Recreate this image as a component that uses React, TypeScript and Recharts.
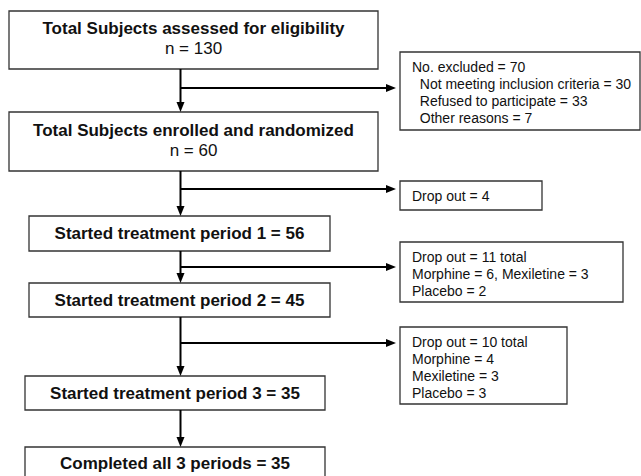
import React from "react";
import { ComposedChart, XAxis, YAxis, ReferenceArea, ReferenceLine, Scatter } from "recharts";

const W = 641;
const H = 476;

const mainLabels = [
  ["Total Subjects assessed for eligibility", "n = 130"],
  ["Total Subjects enrolled and randomized", "n = 60"],
  ["Started treatment period 1 = 56"],
  ["Started treatment period 2 = 45"],
  ["Started treatment period 3 = 35"],
  ["Completed all 3 periods = 35"],
];

const sideLabels = [
  ["No. excluded = 70", "  Not meeting inclusion criteria = 30", "  Refused to participate = 33", "  Other reasons = 7"],
  ["Drop out = 4"],
  ["Drop out = 11 total", "Morphine = 6, Mexiletine = 3", "Placebo = 2"],
  ["Drop out = 10 total", "Morphine = 4", "Mexiletine = 3", "Placebo = 3"],
];

// layout, in the 641x476 frame
const mainX = [[9, 378], [9, 378], [29, 330], [29, 330], [25, 325], [25, 325]];
const mainY = [[11, 69], [112, 171], [216, 251], [283, 317], [376, 410], [447, 480]];
const sideX = [[400, 640], [400, 542], [400, 623], [400, 567]];
const sideY = [[52, 130], [181, 210], [242, 302], [327, 404]];
const branchY = [88, 189, 267, 343];
const spineX = 180.5;

const FONT = "'Liberation Sans', Arial, Helvetica, sans-serif";

type TextPt = { x: number; y: number; text: string; bold: boolean; size: number; anchor: string };
type ArrowPt = { x: number; y: number; dir: "down" | "right" };

const texts: TextPt[] = [];
mainLabels.forEach((lines, i) => {
  const cx = (mainX[i][0] + mainX[i][1]) / 2;
  if (lines.length === 2) {
    const b = mainY[i][1];
    texts.push({ x: cx, y: b - 41, text: lines[0], bold: true, size: 17, anchor: "middle" });
    texts.push({ x: cx, y: b - 21, text: lines[1], bold: false, size: 17, anchor: "middle" });
  } else {
    const cy = (mainY[i][0] + mainY[i][1]) / 2;
    const y = i === 5 ? 463 : cy;
    texts.push({ x: cx, y, text: lines[0], bold: true, size: 17, anchor: "middle" });
  }
});
sideLabels.forEach((lines, k) => {
  lines.forEach((t, j) => {
    texts.push({ x: sideX[k][0] + 12, y: sideY[k][0] + 15 + j * 17, text: t, bold: false, size: 14, anchor: "start" });
  });
});

const arrows: ArrowPt[] = [];
const segments: { x1: number; y1: number; x2: number; y2: number }[] = [];
for (let i = 0; i < mainY.length - 1; i++) {
  arrows.push({ x: spineX, y: mainY[i + 1][0], dir: "down" });
  segments.push({ x1: spineX, y1: mainY[i][1], x2: spineX, y2: mainY[i + 1][0] - 6 });
}
branchY.forEach((y, k) => {
  const tip = sideX[k][0] - 4;
  arrows.push({ x: tip, y, dir: "right" });
  segments.push({ x1: spineX, y1: y, x2: tip - 6, y2: y });
});

const ArrowHead = (props: any) => {
  const { cx, cy, payload } = props;
  const pts =
    payload.dir === "down"
      ? `${cx},${cy} ${cx - 4},${cy - 10} ${cx + 4},${cy - 10}`
      : `${cx},${cy} ${cx - 10},${cy - 4} ${cx - 10},${cy + 4}`;
  return <polygon points={pts} fill="#000" />;
};

const TextMark = (props: any) => {
  const { cx, cy, payload } = props;
  return (
    <text
      x={cx}
      y={cy}
      textAnchor={payload.anchor}
      dominantBaseline="central"
      fontFamily={FONT}
      fontSize={payload.size}
      fontWeight={payload.bold ? 700 : 400}
      fill="#111"
      style={{ whiteSpace: "pre" }}
    >
      {payload.text}
    </text>
  );
};

export default function App() {
  return (
    <div style={{ position: "absolute", left: 0, top: 0, width: W, height: H, background: "#fff" }}>
      <ComposedChart width={W} height={H} margin={{ top: 0, right: 0, bottom: 0, left: 0 }}>
        <XAxis type="number" dataKey="x" domain={[0, W]} hide allowDataOverflow />
        <YAxis type="number" dataKey="y" domain={[0, H]} reversed hide allowDataOverflow />
        {mainX.map((xs, i) => (
          <ReferenceArea
            key={`m${i}`}
            x1={xs[0]}
            x2={xs[1]}
            y1={mainY[i][0]}
            y2={mainY[i][1]}
            fill="#fff"
            fillOpacity={1}
            stroke="#333"
            strokeWidth={1.3}
            ifOverflow="visible"
          />
        ))}
        {sideX.map((xs, k) => (
          <ReferenceArea
            key={`s${k}`}
            x1={xs[0]}
            x2={xs[1]}
            y1={sideY[k][0]}
            y2={sideY[k][1]}
            fill="#fff"
            fillOpacity={1}
            stroke="#333"
            strokeWidth={1.3}
            ifOverflow="visible"
          />
        ))}
        {segments.map((s, i) => (
          <ReferenceLine
            key={`l${i}`}
            segment={[{ x: s.x1, y: s.y1 }, { x: s.x2, y: s.y2 }]}
            stroke="#000"
            strokeWidth={2}
            ifOverflow="visible"
          />
        ))}
        <Scatter data={arrows} dataKey="y" shape={ArrowHead} isAnimationActive={false} />
        <Scatter data={texts} dataKey="y" shape={TextMark} isAnimationActive={false} />
      </ComposedChart>
    </div>
  );
}
